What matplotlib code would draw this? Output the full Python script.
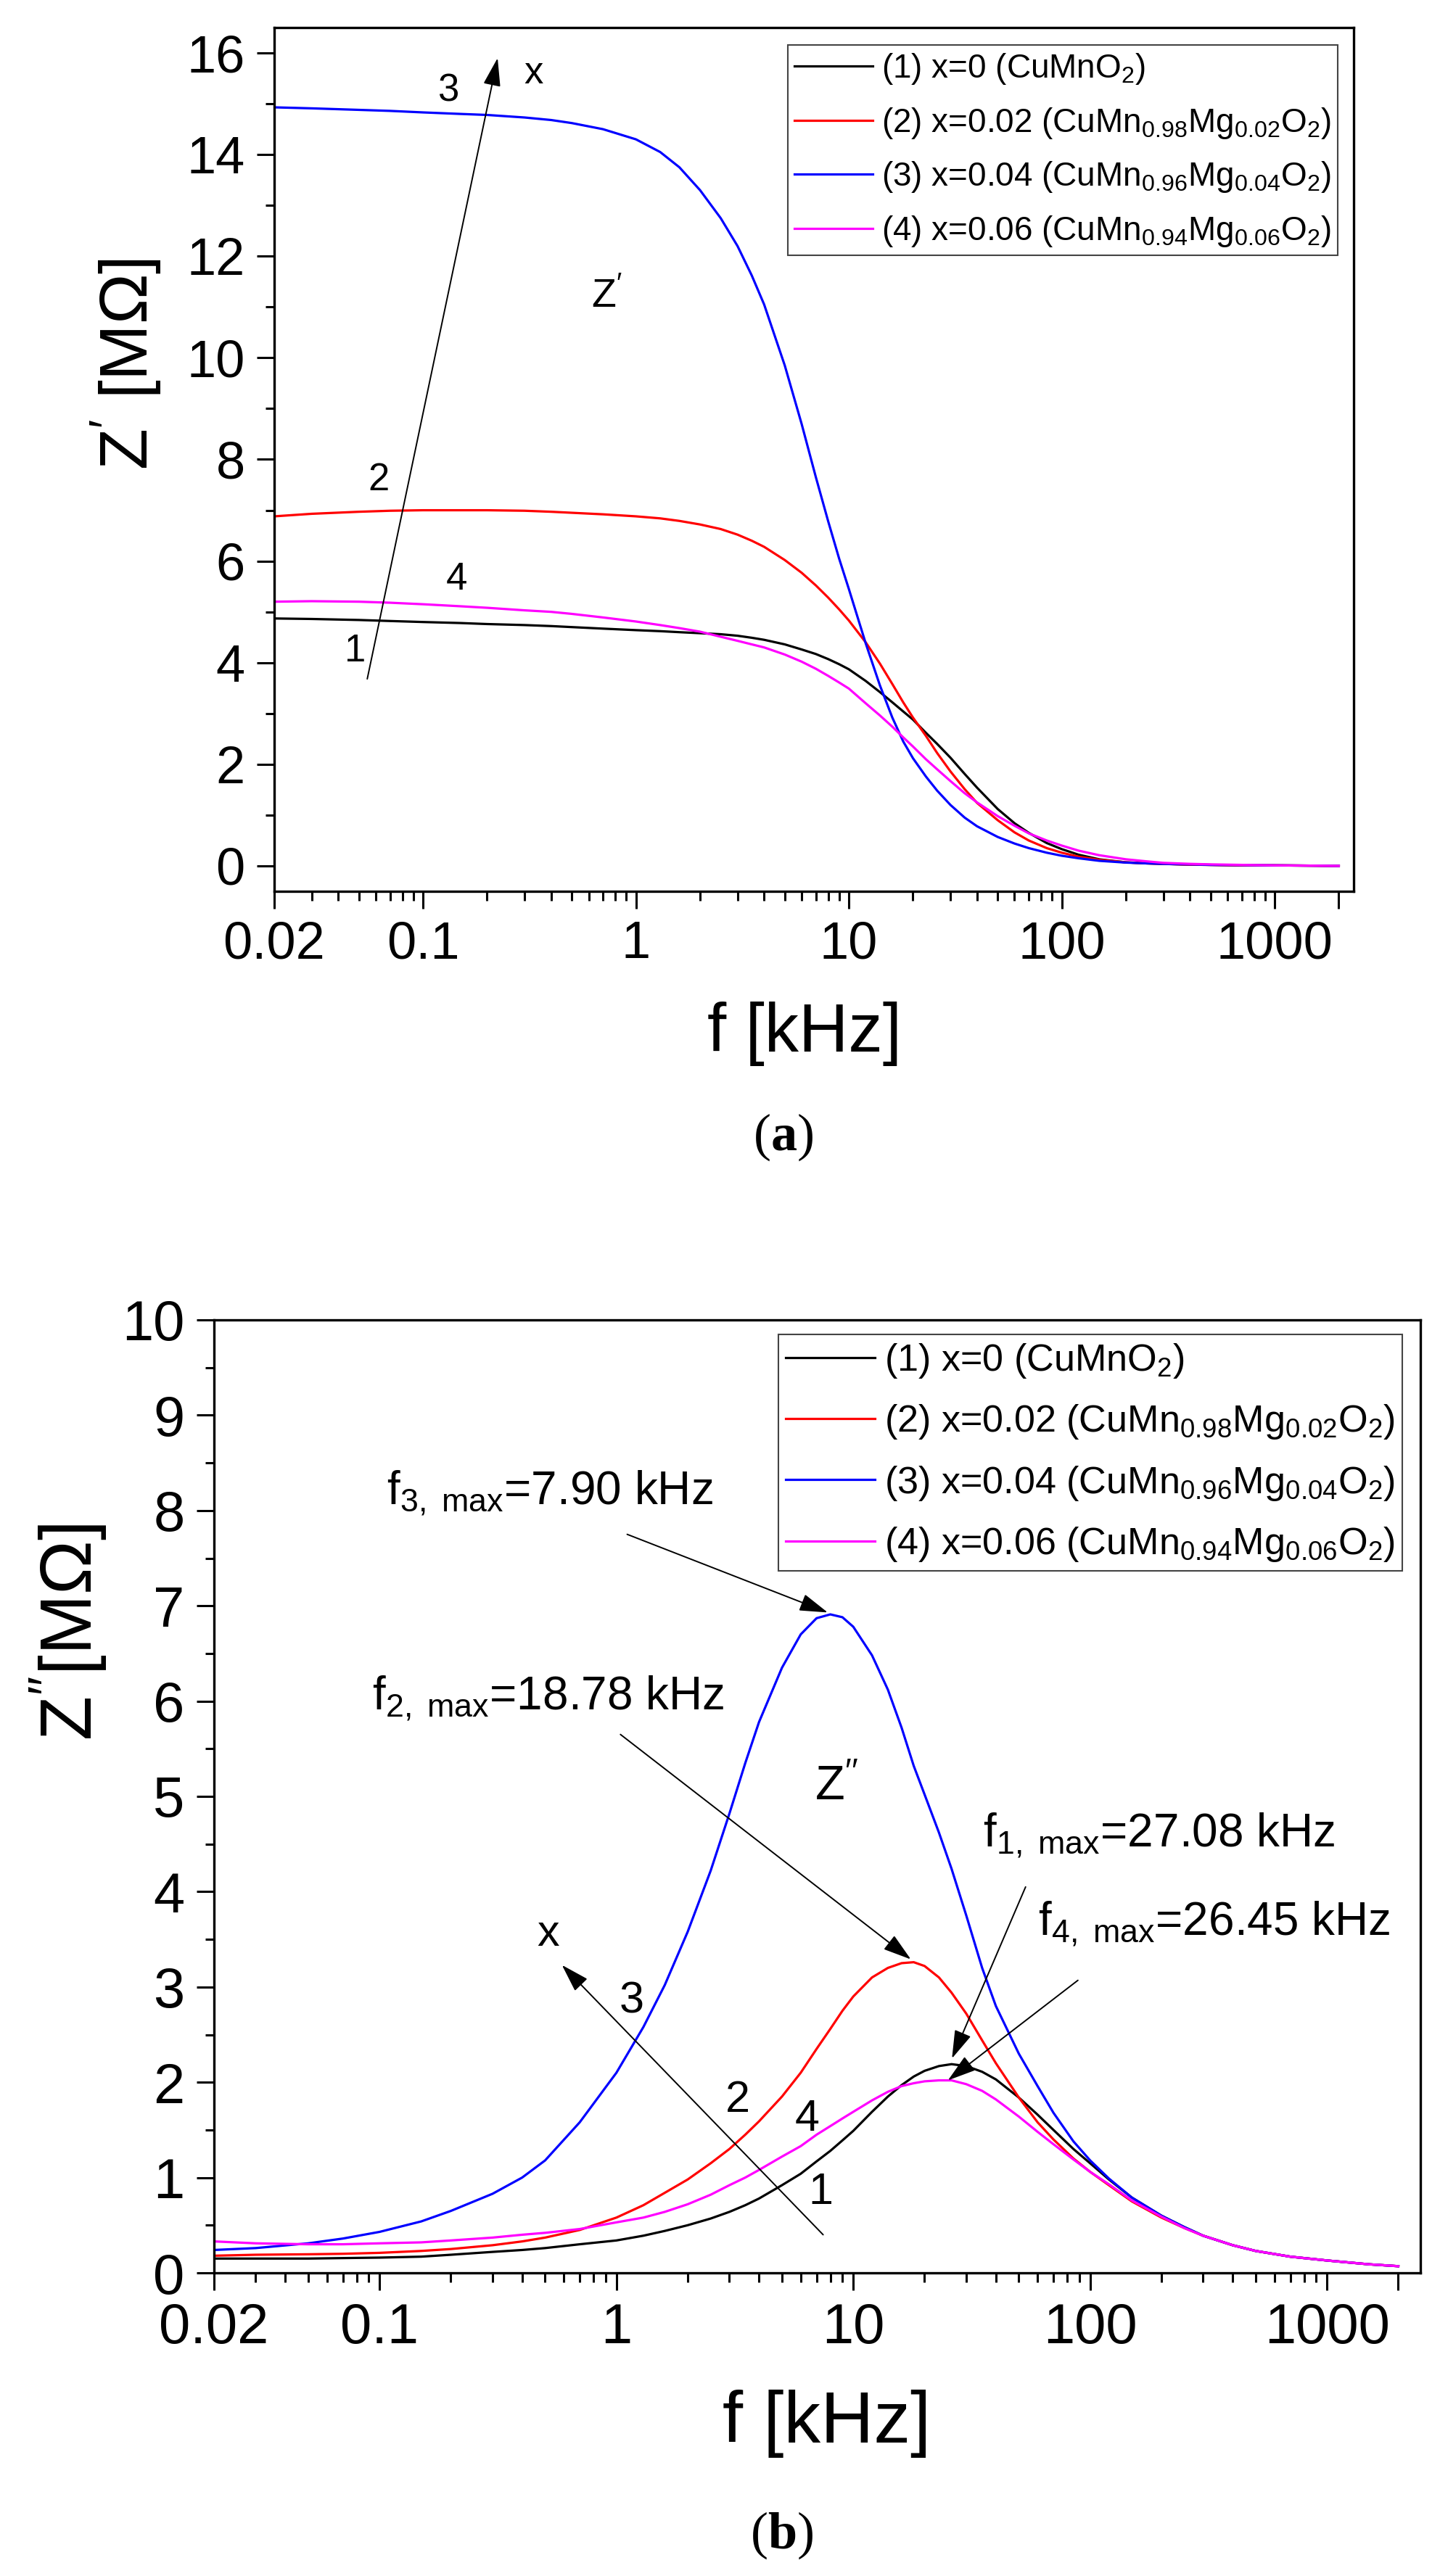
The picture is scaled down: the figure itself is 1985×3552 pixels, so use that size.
import numpy as np
import matplotlib
matplotlib.use('Agg')
import matplotlib.pyplot as plt
from matplotlib.ticker import FixedLocator, NullFormatter, MultipleLocator

plt.rcParams['font.family'] = ['Liberation Sans', 'DejaVu Sans']
plt.rcParams['mathtext.fontset'] = 'custom'
plt.rcParams['mathtext.rm'] = 'Liberation Sans'
plt.rcParams['mathtext.it'] = 'Liberation Sans:italic'
plt.rcParams['mathtext.bf'] = 'Liberation Serif:bold'

# ---- data ----
freq = [0.02, 0.03, 0.05, 0.07, 0.1, 0.15, 0.2, 0.3, 0.4, 0.5,
        0.7, 1, 1.3, 1.6, 2, 2.5, 3, 3.5, 4, 5,
        6, 7, 8, 9, 10, 12, 14, 16, 18, 20,
        23, 26, 30, 35, 40, 50, 60, 70, 85, 100,
        120, 150, 200, 250, 300, 400, 500, 700, 1000, 1500,
        2000]

# Z' [MOhm]
zre_1 = [4.87, 4.86, 4.84, 4.82, 4.80, 4.78, 4.76, 4.74, 4.72, 4.70,
         4.67, 4.64, 4.62, 4.60, 4.58, 4.56, 4.53, 4.49, 4.45, 4.36,
         4.26, 4.17, 4.07, 3.97, 3.87, 3.64, 3.42, 3.22, 3.04, 2.88,
         2.62, 2.40, 2.13, 1.81, 1.54, 1.12, 0.84, 0.65, 0.45, 0.33,
         0.22, 0.13, 0.07, 0.05, 0.04, 0.025, 0.02, 0.01, 0.01, 0.005,
         0.0]
zre_2 = [6.88, 6.93, 6.97, 6.99, 7.00, 7.00, 7.00, 6.99, 6.97, 6.95,
         6.92, 6.88, 6.84, 6.79, 6.72, 6.63, 6.52, 6.40, 6.28, 6.02,
         5.77, 5.52, 5.28, 5.05, 4.83, 4.40, 3.98, 3.58, 3.22, 2.92,
         2.56, 2.22, 1.86, 1.51, 1.24, 0.90, 0.66, 0.50, 0.35, 0.26,
         0.18, 0.12, 0.07, 0.05, 0.04, 0.025, 0.02, 0.01, 0.01, 0.005,
         0.0]
zre_3 = [14.93, 14.91, 14.88, 14.86, 14.83, 14.80, 14.78, 14.73, 14.68, 14.62,
         14.50, 14.30, 14.05, 13.75, 13.30, 12.75, 12.20, 11.62, 11.05, 9.85,
         8.70, 7.65, 6.78, 6.05, 5.45, 4.38, 3.55, 2.92, 2.45, 2.12,
         1.76, 1.48, 1.20, 0.95, 0.78, 0.57, 0.44, 0.35, 0.26, 0.20,
         0.15, 0.10, 0.065, 0.05, 0.04, 0.03, 0.02, 0.015, 0.01, 0.005,
         0.0]
zre_4 = [5.20, 5.21, 5.20, 5.18, 5.15, 5.11, 5.08, 5.03, 5.00, 4.96,
         4.89, 4.81, 4.74, 4.68, 4.61, 4.51, 4.43, 4.36, 4.30, 4.16,
         4.02, 3.88, 3.74, 3.61, 3.49, 3.20, 2.96, 2.74, 2.53, 2.35,
         2.10, 1.90, 1.67, 1.43, 1.25, 0.98, 0.79, 0.64, 0.50, 0.40,
         0.30, 0.21, 0.13, 0.09, 0.06, 0.04, 0.03, 0.02, 0.01, 0.005,
         0.0]

# Z'' [MOhm]
zim_1 = [0.15, 0.15, 0.15, 0.155, 0.16, 0.17, 0.19, 0.22, 0.24, 0.26,
         0.30, 0.34, 0.39, 0.44, 0.50, 0.57, 0.64, 0.71, 0.78, 0.92,
         1.04, 1.17, 1.28, 1.39, 1.49, 1.69, 1.85, 1.97, 2.06, 2.12,
         2.17, 2.19, 2.17, 2.11, 2.03, 1.84, 1.66, 1.50, 1.30, 1.15,
         0.98, 0.79, 0.60, 0.48, 0.39, 0.29, 0.23, 0.17, 0.13, 0.09,
         0.07]
zim_2 = [0.18, 0.19, 0.195, 0.20, 0.21, 0.23, 0.25, 0.29, 0.33, 0.37,
         0.45, 0.58, 0.71, 0.84, 0.98, 1.15, 1.30, 1.45, 1.59, 1.85,
         2.10, 2.35, 2.56, 2.75, 2.90, 3.10, 3.20, 3.25, 3.26, 3.22,
         3.10, 2.94, 2.72, 2.44, 2.20, 1.84, 1.58, 1.40, 1.20, 1.06,
         0.92, 0.75, 0.58, 0.47, 0.39, 0.29, 0.23, 0.17, 0.13, 0.09,
         0.07]
zim_3 = [0.24, 0.26, 0.31, 0.36, 0.43, 0.54, 0.65, 0.83, 1.00, 1.18,
         1.58, 2.10, 2.58, 3.02, 3.58, 4.22, 4.82, 5.35, 5.78, 6.35,
         6.70, 6.87, 6.91, 6.88, 6.78, 6.48, 6.12, 5.72, 5.32, 5.02,
         4.62, 4.24, 3.75, 3.20, 2.80, 2.30, 1.96, 1.68, 1.38, 1.18,
         0.99, 0.79, 0.60, 0.48, 0.39, 0.29, 0.23, 0.17, 0.13, 0.09,
         0.07]
zim_4 = [0.33, 0.31, 0.30, 0.30, 0.31, 0.32, 0.34, 0.37, 0.40, 0.42,
         0.46, 0.53, 0.58, 0.64, 0.72, 0.82, 0.92, 1.00, 1.08, 1.22,
         1.33, 1.45, 1.54, 1.62, 1.69, 1.81, 1.90, 1.96, 1.99, 2.01,
         2.02, 2.02, 1.98, 1.91, 1.82, 1.64, 1.48, 1.35, 1.19, 1.06,
         0.93, 0.76, 0.59, 0.47, 0.39, 0.29, 0.23, 0.17, 0.13, 0.09,
         0.07]

labels = [r'(1) x=0 (CuMnO$_2$)',
          r'(2) x=0.02 (CuMn$_{0.98}$Mg$_{0.02}$O$_2$)',
          r'(3) x=0.04 (CuMn$_{0.96}$Mg$_{0.04}$O$_2$)',
          r'(4) x=0.06 (CuMn$_{0.94}$Mg$_{0.06}$O$_2$)']
colors = ['#000000', '#ff0000', '#0000ff', '#ff00ff']

xticks = [0.02, 0.1, 1, 10, 100, 1000, 2000]
xticklabels = ['0.02', '0.1', '1', '10', '100', '1000', '']
xminor = [m * 10.0 ** e for e in range(-2, 3) for m in range(2, 10)]

W, H = 1985, 3552
fig = plt.figure(figsize=(W / 100, H / 100), dpi=100)

def px(x, y):
    return x / W, 1 - y / H

def style_axes(ax, fs):
    ax.set_xscale('log')
    ax.set_xticks(xticks)
    ax.set_xticklabels(xticklabels)
    ax.xaxis.set_minor_locator(FixedLocator(xminor))
    ax.xaxis.set_minor_formatter(NullFormatter())
    for s in ax.spines.values():
        s.set_linewidth(2.4)
    ax.tick_params(which='major', direction='out', length=17, width=2.2,
                   labelsize=fs, pad=12, top=False, right=False)
    ax.tick_params(which='minor', direction='out', length=9, width=2.2,
                   top=False, right=False)

arrow_kw = dict(arrowstyle='-|>,head_length=0.55,head_width=0.17', color='k',
                lw=1.4, shrinkA=0, shrinkB=0, mutation_scale=44)

# ---------------- (a) Z' ----------------
ax1 = fig.add_axes([378 / W, 1 - 1229 / H, 1488 / W, 1191 / H])
for y, c, lab in zip([zre_1, zre_2, zre_3, zre_4], colors, labels):
    ax1.plot(freq, y, color=c, lw=2.3, label=lab)
style_axes(ax1, 52)
ax1.set_xlim(0.02, 2350)
ax1.set_ylim(-0.5, 16.5)
ax1.yaxis.set_major_locator(MultipleLocator(2))
ax1.yaxis.set_minor_locator(MultipleLocator(1))
leg1 = ax1.legend(loc='upper right', bbox_to_anchor=(0.985, 0.980),
                  borderaxespad=0, fontsize=33, handlelength=2.35,
                  handletextpad=0.25, borderpad=0.2, labelspacing=0.58,
                  fancybox=False, framealpha=1, edgecolor='#444444')
leg1.get_frame().set_linewidth(1.5)
for ln in leg1.get_lines():
    ln.set_linewidth(2.3)

ax1.annotate('', xy=(0.224, 15.9), xytext=(0.0547, 3.68), arrowprops=arrow_kw)
for s, xx, yy in [('3', 0.131, 15.25), ('x', 0.33, 15.6), ('2', 0.0617, 7.6),
                  ('4', 0.144, 5.64), ('1', 0.048, 4.22)]:
    ax1.text(xx, yy, s, fontsize=38, ha='center', va='center')
ax1.text(0.73, 11.2, r'Z$^{\prime}$', fontsize=40, ha='center', va='center')

fig.text(*px(174, 502), r'Z$^{\prime}$ [M$\Omega$]', fontsize=67,
         rotation=90, ha='center', va='center')
fig.text(*px(1109, 1425), 'f [kHz]', fontsize=68, ha='center', va='center')
fig.text(*px(1080, 1568), r'($\mathbf{a}$)', fontsize=52, ha='center',
         va='center', family='Liberation Serif')

# ---------------- (b) Z'' ----------------
ax2 = fig.add_axes([295 / W, 1 - 3134 / H, 1663 / W, 1314 / H])
for y, c, lab in zip([zim_1, zim_2, zim_3, zim_4], colors, labels):
    ax2.plot(freq, y, color=c, lw=2.3, label=lab)
style_axes(ax2, 56)
ax2.set_xlim(0.02, 2480)
ax2.set_ylim(0, 10)
ax2.yaxis.set_major_locator(MultipleLocator(1))
ax2.yaxis.set_minor_locator(MultipleLocator(0.5))
leg2 = ax2.legend(loc='upper right', bbox_to_anchor=(0.985, 0.985),
                  borderaxespad=0, fontsize=37.5, handlelength=2.35,
                  handletextpad=0.25, borderpad=0.2, labelspacing=0.6,
                  fancybox=False, framealpha=1, edgecolor='#444444')
leg2.get_frame().set_linewidth(1.5)
for ln in leg2.get_lines():
    ln.set_linewidth(2.3)

# peak annotations
ax2.text(0.107, 8.07, r'f$_{\mathrm{3,\ max}}$=7.90 kHz', fontsize=46,
         ha='left', va='baseline')
ax2.annotate('', xy=(7.8, 6.93), xytext=(1.11, 7.75), arrowprops=arrow_kw)
ax2.text(0.0929, 5.92, r'f$_{\mathrm{2,\ max}}$=18.78 kHz', fontsize=46,
         ha='left', va='baseline')
ax2.annotate('', xy=(17.5, 3.29), xytext=(1.04, 5.65), arrowprops=arrow_kw)
ax2.text(35.2, 4.48, r'f$_{\mathrm{1,\ max}}$=27.08 kHz', fontsize=46,
         ha='left', va='baseline')
ax2.annotate('', xy=(26.1, 2.25), xytext=(53.4, 4.05), arrowprops=arrow_kw)
ax2.text(60.2, 3.55, r'f$_{\mathrm{4,\ max}}$=26.45 kHz', fontsize=46,
         ha='left', va='baseline')
ax2.annotate('', xy=(25.1, 2.02), xytext=(88.8, 3.07), arrowprops=arrow_kw)

ax2.annotate('', xy=(0.589, 3.23), xytext=(7.46, 0.40), arrowprops=arrow_kw)
for s, xx, yy in [('x', 0.515, 3.55), ('3', 1.16, 2.85), ('2', 3.25, 1.81),
                  ('4', 6.4, 1.61), ('1', 7.3, 0.84)]:
    ax2.text(xx, yy, s, fontsize=44, ha='center', va='center')
ax2.text(8.5, 5.09, r'Z$^{\prime\prime}$', fontsize=48, ha='center', va='center')

fig.text(*px(94, 2250), r'Z$^{\prime\prime}$[M$\Omega$]', fontsize=72,
         rotation=90, ha='center', va='center')
fig.text(*px(1140, 3342), 'f [kHz]', fontsize=73, ha='center', va='center')
fig.text(*px(1078, 3496), r'($\mathbf{b}$)', fontsize=52, ha='center',
         va='center', family='Liberation Serif')

fig.savefig('out.png', dpi=100)
